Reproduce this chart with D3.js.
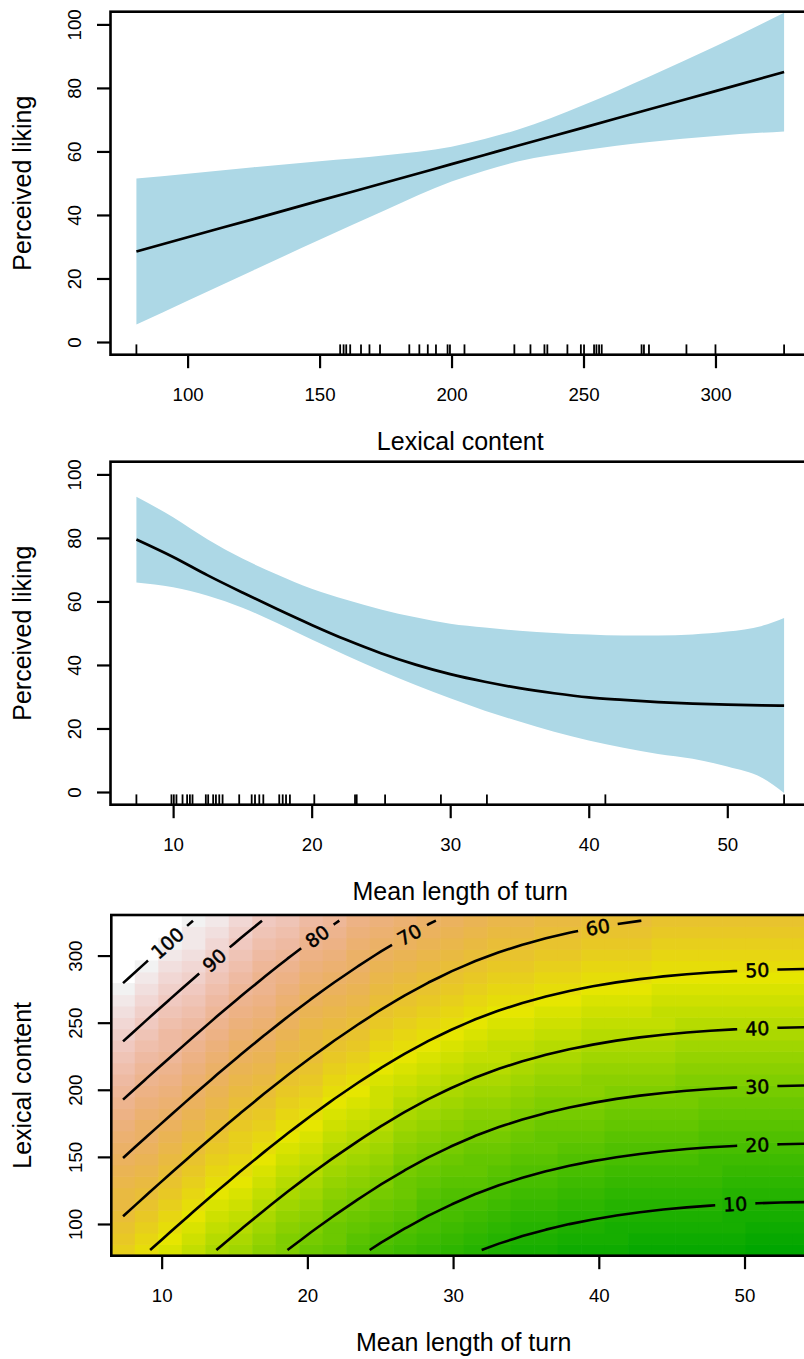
<!DOCTYPE html>
<html>
<head>
<meta charset="utf-8">
<script src="https://cdn.jsdelivr.net/npm/d3@7/dist/d3.min.js"></script>
<style>
  body { margin: 0; background: #fff; }
  svg { display: block; }
  text { font-family: "Liberation Sans", Arial, Helvetica, sans-serif; fill: #000; }
</style>
</head>
<body>
<svg id="chart" width="804" height="1359"></svg>
<script>
// ---- values ----

// panel 1: effect of lexical content
const lexX     = [80.6, 100, 125, 150, 175, 200, 212.5, 225, 250, 275, 300, 326];
const lexFit   = [28.5, 33.0, 38.7, 44.5, 50.2, 56.0, 58.9, 61.8, 67.5, 73.3, 79.0, 85.0];
const lexUpper = [51.5, 53.0, 55.0, 56.9, 58.8, 61.5, 63.9, 66.8, 74.6, 83.6, 93.1, 103.7];
const lexLower = [5.5, 13.0, 22.6, 32.2, 41.6, 50.5, 53.9, 56.8, 60.4, 63.0, 64.9, 66.3];
const lexRug = [80.6, 157.8, 159.1, 160.1, 161.6, 165.7, 168.9, 172.9, 184.0, 187.8, 191.0,
  194.1, 198.5, 199.4, 204.9, 223.8, 229.9, 235.2, 236.3, 243.9, 249.0, 250.2, 254.0, 254.9,
  255.9, 256.9, 272.0, 272.9, 274.8, 289.0, 300.0, 326.0];

// panel 2: effect of mean length of turn
const turnX     = [7.35, 10, 12.5, 15, 17.5, 20, 22.5, 25, 27.5, 30, 32.5, 35, 37.5, 40, 42.5, 45, 47.5, 50, 52.5, 54.1];
const turnFit   = [79.5, 74.0, 68.2, 62.8, 57.6, 52.6, 47.9, 43.7, 40.1, 37.1, 34.7, 32.7, 31.1, 29.8, 29.0, 28.3, 27.8, 27.5, 27.3, 27.2];
const turnUpper = [93.0, 86.5, 79.5, 73.5, 68.5, 64.0, 60.5, 57.5, 55.0, 53.0, 51.8, 50.8, 50.1, 49.6, 49.3, 49.3, 49.6, 50.5, 52.3, 54.8];
const turnLower = [66.0, 64.5, 61.8, 58.0, 53.2, 48.0, 43.0, 38.2, 33.7, 29.5, 25.6, 22.2, 19.0, 16.2, 13.9, 12.0, 10.5, 8.0, 4.5, -0.3];
const turnRug = [7.35, 9.88, 10.05, 10.24, 10.68, 11.01, 11.21, 11.40, 12.36, 12.53, 12.89, 13.09,
  13.33, 13.57, 14.77, 15.67, 15.91, 16.22, 16.51, 17.66, 17.91, 18.15, 18.43, 20.19, 23.13,
  23.25, 25.30, 29.33, 32.65, 41.2, 54.1];

// panel 3: fitted surface on a 30 x 30 grid = lexical row effect + turn column effect - intercept
const lexGridEffect = [28.50, 30.45, 32.40, 34.35, 36.30, 38.24, 40.19, 42.14, 44.09, 46.04,
  47.99, 49.94, 51.89, 53.83, 55.78, 57.73, 59.68, 61.63, 63.58, 65.53,
  67.48, 69.42, 71.37, 73.32, 75.27, 77.22, 79.17, 81.12, 83.07, 85.02];
const turnGridEffect = [79.50, 75.85, 72.25, 68.70, 65.20, 61.80, 58.50, 55.30, 52.25, 49.35,
  46.60, 44.00, 41.60, 39.40, 37.45, 35.70, 34.20, 32.90, 31.80, 30.85,
  30.05, 29.37, 28.81, 28.35, 27.97, 27.67, 27.44, 27.27, 27.15, 27.07];
const surfaceIntercept = 53.8;
const contourLevels = [10, 20, 30, 40, 50, 60, 70, 80, 90, 100];
const colorLimits = [0, 100];

// tick labels
const likingTicks = [0, 20, 40, 60, 80, 100];
const lexTicks = [100, 150, 200, 250, 300];
const turnTicks = [10, 20, 30, 40, 50];

// ---- layout ----
const svg = d3.select("#chart");
const plotLeft = 110.5, plotRight = 810;
const tickFont = "18.7px", titleFont = "25px";
// distance (px, along the line from its top/right end) of each contour label
const labelDist = {10: 69, 20: 47, 30: 47, 40: 47, 50: 47, 60: 44, 70: 30, 80: 27, 90: 62, 100: 34};

function bottomAxis(scale, ticks, yPos) {
  const ax = svg.append("g").attr("transform", `translate(0,${yPos})`)
    .call(d3.axisBottom(scale).tickValues(ticks).tickSize(13.5).tickFormat(d3.format("d")));
  ax.attr("font-family", null).attr("font-size", null);
  ax.select(".domain").remove();
  ax.selectAll(".tick line").attr("stroke", "#000").attr("stroke-width", 2.2);
  ax.selectAll(".tick text").attr("y", 46).attr("dy", null).style("font-size", tickFont);
}

function leftAxis(scale, ticks, xPos) {
  const ax = svg.append("g").attr("transform", `translate(${xPos},0)`)
    .call(d3.axisLeft(scale).tickValues(ticks).tickSize(13.5).tickFormat(d3.format("d")));
  ax.attr("font-family", null).attr("font-size", null);
  ax.select(".domain").remove();
  ax.selectAll(".tick line").attr("stroke", "#000").attr("stroke-width", 2.2);
  ax.selectAll(".tick text").attr("x", null).attr("dy", null)
    .attr("text-anchor", "middle")
    .attr("transform", "translate(-29.3,0) rotate(-90)")
    .style("font-size", tickFont);
}

function xTitle(text, cx, y) {
  svg.append("text").attr("x", cx).attr("y", y).attr("text-anchor", "middle")
    .style("font-size", titleFont).text(text);
}

function yTitle(text, cy) {
  svg.append("text").attr("transform", `translate(31,${cy}) rotate(-90)`)
    .attr("text-anchor", "middle").style("font-size", titleFont).text(text);
}

function box(x0, y0, x1, y1) {
  svg.append("rect").attr("x", x0).attr("y", y0).attr("width", x1 - x0).attr("height", y1 - y0)
    .attr("fill", "none").attr("stroke", "#000").attr("stroke-width", 2.6);
}

function padded(ext) {
  const p = (ext[1] - ext[0]) * 0.04;
  return [ext[0] - p, ext[1] + p];
}

// ---- effect panels ----
function effectPanel(top, bottom, xs, fit, upper, lower, rug, ticks, title) {
  const x = d3.scaleLinear().domain(padded(d3.extent(rug))).range([plotLeft, plotRight]);
  const y = d3.scaleLinear().domain([-4, 104]).range([bottom, top]);
  const rows = xs.map((v, i) => ({x: v, fit: fit[i], hi: upper[i], lo: lower[i]}));

  svg.append("path").datum(rows)
    .attr("fill", "#add8e6")
    .attr("d", d3.area().curve(d3.curveMonotoneX)
      .x(d => x(d.x)).y0(d => y(d.lo)).y1(d => y(d.hi)));

  svg.append("path").datum(rows)
    .attr("fill", "none").attr("stroke", "#000").attr("stroke-width", 2.7)
    .attr("d", d3.line().curve(d3.curveMonotoneX).x(d => x(d.x)).y(d => y(d.fit)));

  svg.append("g").selectAll("line").data(rug).enter().append("line")
    .attr("x1", d => x(d)).attr("x2", d => x(d))
    .attr("y1", bottom).attr("y2", bottom - 10.3)
    .attr("stroke", "#000").attr("stroke-width", 1.8);

  box(plotLeft, top, plotRight, bottom);
  bottomAxis(x, ticks, bottom);
  leftAxis(y, likingTicks, plotLeft);
  xTitle(title, (plotLeft + plotRight) / 2, bottom + 95);
  yTitle("Perceived liking", (top + bottom) / 2);
}

effectPanel(11.7, 354.7, lexX, lexFit, lexUpper, lexLower, lexRug, lexTicks, "Lexical content");
effectPanel(461.7, 804.7, turnX, turnFit, turnUpper, turnLower, turnRug, turnTicks, "Mean length of turn");

// ---- surface panel ----
const nx = turnGridEffect.length, ny = lexGridEffect.length;
const zGrid = lexGridEffect.map(r => turnGridEffect.map(c => r + c - surfaceIntercept));
const turnIdx = d3.scaleLinear().domain([0, nx - 1]).range(d3.extent(turnRug));
const lexIdx = d3.scaleLinear().domain([0, ny - 1]).range(d3.extent(lexRug));

const hTop = 915, hBottom = 1255.7, hLeft = 111.3, hRight = 816;
const xH = d3.scaleLinear().domain([turnIdx(-0.5), turnIdx(nx - 0.5)]).range([hLeft, hRight]);
const yH = d3.scaleLinear().domain([lexIdx(-0.5), lexIdx(ny - 0.5)]).range([hBottom, hTop]);

function hsv(h, s, v) {
  const i = Math.floor(h * 6), f = h * 6 - i;
  const p = v * (1 - s), q = v * (1 - f * s), t = v * (1 - (1 - f) * s);
  let r, g, b;
  switch (((i % 6) + 6) % 6) {
    case 0: r = v; g = t; b = p; break;
    case 1: r = q; g = v; b = p; break;
    case 2: r = p; g = v; b = t; break;
    case 3: r = p; g = q; b = v; break;
    case 4: r = t; g = p; b = v; break;
    default: r = v; g = p; b = q;
  }
  return d3.rgb(r * 255, g * 255, b * 255).formatHex();
}

// same ramp as R's terrain.colors(n)
function terrainColors(n) {
  const k = Math.floor(n / 2);
  const seq = (a, b, m) => d3.range(m).map(i => a + (b - a) * i / (m - 1));
  const h1 = seq(4 / 12, 2 / 12, k), v1 = seq(0.65, 0.9, k);
  const h2 = seq(2 / 12, 0, n - k + 1).slice(1), s2 = seq(1, 0, n - k + 1).slice(1), v2 = seq(0.9, 0.95, n - k + 1).slice(1);
  return h1.map((h, i) => hsv(h, 1, v1[i])).concat(h2.map((h, i) => hsv(h, s2[i], v2[i])));
}

const color = d3.scaleQuantize().domain(colorLimits).range(terrainColors(50));

svg.append("clipPath").attr("id", "heatclip").append("rect")
  .attr("x", hLeft).attr("y", hTop).attr("width", hRight - hLeft).attr("height", hBottom - hTop);

const heat = svg.append("g").attr("clip-path", "url(#heatclip)");
const cells = [];
zGrid.forEach((row, i) => row.forEach((z, j) => {
  // like image(): cells outside the colour limits stay blank
  if (z >= colorLimits[0] && z <= colorLimits[1]) cells.push({i, j, z});
}));
heat.selectAll("rect").data(cells).enter().append("rect")
  .attr("x", d => xH(turnIdx(d.j - 0.5)))
  .attr("y", d => yH(lexIdx(d.i + 0.5)))
  .attr("width", d => xH(turnIdx(d.j + 0.5)) - xH(turnIdx(d.j - 0.5)) + 0.6)
  .attr("height", d => yH(lexIdx(d.i - 0.5)) - yH(lexIdx(d.i + 0.5)) + 0.6)
  .attr("fill", d => color(d.z));

// marching squares on the grid, chained into polylines (grid index coordinates)
function isolines(t) {
  const v = (i, j) => zGrid[i][j];
  const segs = [];
  for (let i = 0; i < ny - 1; i++) {
    for (let j = 0; j < nx - 1; j++) {
      const a = v(i, j), b = v(i, j + 1), c = v(i + 1, j + 1), d = v(i + 1, j);
      const pts = [];
      if ((a >= t) !== (b >= t)) pts.push({key: `h${i}_${j}`, gx: j + (t - a) / (b - a), gy: i});
      if ((b >= t) !== (c >= t)) pts.push({key: `v${i}_${j + 1}`, gx: j + 1, gy: i + (t - b) / (c - b)});
      if ((d >= t) !== (c >= t)) pts.push({key: `h${i + 1}_${j}`, gx: j + (t - d) / (c - d), gy: i + 1});
      if ((a >= t) !== (d >= t)) pts.push({key: `v${i}_${j}`, gx: j, gy: i + (t - a) / (d - a)});
      if (pts.length === 2) segs.push(pts);
      else if (pts.length === 4) { segs.push([pts[0], pts[1]]); segs.push([pts[2], pts[3]]); }
    }
  }
  const adj = new Map();
  segs.forEach((s, k) => s.forEach(p => {
    if (!adj.has(p.key)) adj.set(p.key, []);
    adj.get(p.key).push(k);
  }));
  const used = segs.map(() => false);
  const lines = [];
  const walk = startKey => {
    const line = [];
    let key = startKey;
    for (;;) {
      const k = (adj.get(key) || []).find(s => !used[s]);
      if (k === undefined) break;
      used[k] = true;
      const s = segs[k];
      const p = s[0].key === key ? s[0] : s[1];
      const q = s[0].key === key ? s[1] : s[0];
      if (!line.length) line.push(p);
      line.push(q);
      key = q.key;
    }
    return line;
  };
  [...adj.keys()].filter(k => adj.get(k).length === 1).forEach(k => {
    if (!used[adj.get(k)[0]]) lines.push(walk(k));
  });
  segs.forEach((s, k) => { if (!used[k]) lines.push(walk(s[0].key)); });
  return lines.filter(l => l.length > 1);
}

const contourG = svg.append("g");
const lineGen = d3.line();

contourLevels.forEach(level => {
  isolines(level).forEach(line => {
    const a = line[0], b = line[line.length - 1];
    if (a.gx + a.gy > b.gx + b.gy) line.reverse();
    const pts = line.map(p => [xH(turnIdx(p.gx)), yH(lexIdx(p.gy))]);
    const cum = [0];
    for (let k = 1; k < pts.length; k++) {
      cum.push(cum[k - 1] + Math.hypot(pts[k][0] - pts[k - 1][0], pts[k][1] - pts[k - 1][1]));
    }
    const L = cum[cum.length - 1];
    const at = s => {
      s = Math.max(0, Math.min(L, s));
      let k = 1;
      while (k < pts.length - 1 && cum[k] < s) k++;
      const f = (s - cum[k - 1]) / ((cum[k] - cum[k - 1]) || 1);
      return [pts[k - 1][0] + f * (pts[k][0] - pts[k - 1][0]), pts[k - 1][1] + f * (pts[k][1] - pts[k - 1][1])];
    };
    const slice = (s0, s1) => {
      const out = [at(s0)];
      cum.forEach((c, k) => { if (c > s0 && c < s1) out.push(pts[k]); });
      out.push(at(s1));
      return out;
    };

    const sc = L - labelDist[level];
    const p0 = at(sc - 8), p1 = at(sc + 8), pc = at(sc);
    let ang = Math.atan2(p1[1] - p0[1], p1[0] - p0[0]) * 180 / Math.PI;
    if (ang > 90) ang -= 180;
    if (ang < -90) ang += 180;

    const label = contourG.append("text")
      .attr("transform", `translate(${pc[0]},${pc[1]}) rotate(${ang})`)
      .attr("text-anchor", "middle").attr("dy", "0.36em")
      .style("font-family", "'DejaVu Sans', sans-serif").style("font-size", "19px")
      .attr("stroke", "#000").attr("stroke-width", 0.5)
      .text(level);
    const hw = label.node().getComputedTextLength() / 2 + 8;

    [[0, sc - hw], [sc + hw, L]].forEach(([s0, s1]) => {
      if (s1 - s0 < 1) return;
      contourG.append("path")
        .attr("d", lineGen(slice(s0, s1)))
        .attr("fill", "none").attr("stroke", "#000").attr("stroke-width", 2.6)
        .attr("stroke-linejoin", "round");
    });
  });
});

box(hLeft, hTop, hRight, hBottom);
bottomAxis(xH, turnTicks, hBottom);
leftAxis(yH, lexTicks, hLeft);
xTitle("Mean length of turn", (hLeft + hRight) / 2, hBottom + 95);
yTitle("Lexical content", (hTop + hBottom) / 2);
</script>
</body>
</html>
